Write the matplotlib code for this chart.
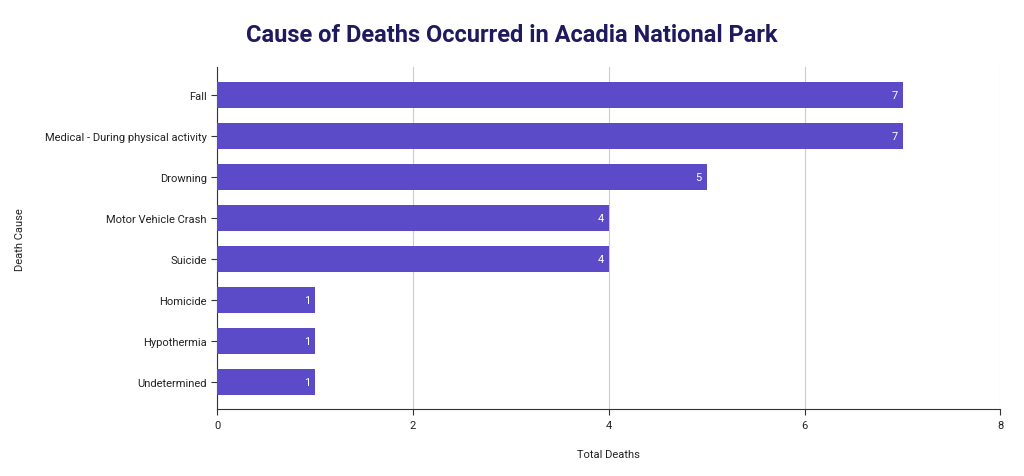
import matplotlib
matplotlib.use("Agg")
import matplotlib.pyplot as plt

causes = ["Fall", "Medical - During physical activity", "Drowning", "Motor Vehicle Crash",
          "Suicide", "Homicide", "Hypothermia", "Undetermined"]
deaths = [7, 7, 5, 4, 4, 1, 1, 1]
xticks = [0, 2, 4, 6, 8]

plt.rcParams['font.family'] = ['Roboto', 'DejaVu Sans']
fig = plt.figure(figsize=(10.24, 4.77), dpi=100)
ax = fig.add_axes([0.212, 0.140, 0.765, 0.717])
y = list(range(len(causes)))
ax.barh(y, deaths, height=0.64, color="#5b4bc8", zorder=3)
for yi, v in zip(y, deaths):
    ax.text(v - 0.05, yi, str(v), ha="right", va="center", color="white", fontsize=8, zorder=4)
ax.set_yticks(y)
ax.set_yticklabels(causes, fontsize=8, color="#222222")
ax.set_ylim(len(causes) - 0.33, -0.67)
ax.set_xlim(0, 8)
ax.set_xticks(xticks)
ax.set_xticklabels([str(t) for t in xticks], fontsize=8, color="#222222")
ax.grid(axis="x", color="#cccccc", linewidth=0.8, zorder=0)
for s in ["top", "right"]:
    ax.spines[s].set_visible(False)
ax.spines["left"].set_color("#333333")
ax.spines["bottom"].set_color("#333333")
ax.tick_params(axis="both", length=4, color="#333333")
ax.set_xlabel("Total Deaths", fontsize=8, labelpad=14, color="#222222")
ax.set_ylabel("Death Cause", fontsize=8, labelpad=14, color="#222222")
fig.text(0.5, 0.925, "Cause of Deaths Occurred in Acadia National Park", ha="center", va="center",
         fontsize=17, fontweight="bold", color="#1f1a5e")
fig.savefig("out.png", dpi=100, facecolor="white")
